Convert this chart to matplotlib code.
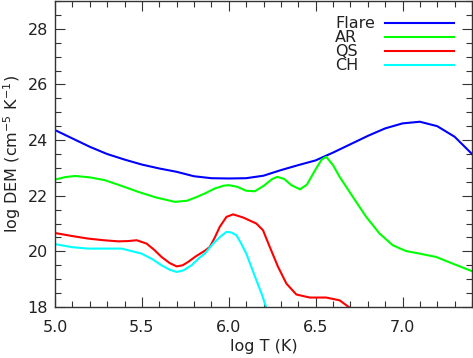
import numpy as np
import matplotlib
matplotlib.use('Agg')
from matplotlib import pyplot as plt
from matplotlib.ticker import MultipleLocator, FormatStrFormatter

# DEM curves (log T, log DEM)
flare_T = [5.0, 5.1, 5.2, 5.3, 5.4, 5.5, 5.6, 5.7, 5.8, 5.9, 6.0, 6.1, 6.2,
           6.3, 6.4, 6.5, 6.6, 6.7, 6.8, 6.9, 7.0, 7.1, 7.2, 7.3, 7.4]
flare_dem = [24.36, 24.06, 23.76, 23.5, 23.3, 23.12, 22.98, 22.86, 22.7, 22.63,
             22.62, 22.63, 22.72, 22.92, 23.1, 23.27, 23.55, 23.85, 24.15,
             24.42, 24.6, 24.66, 24.5, 24.12, 23.5]

ar_T = [5.0, 5.06, 5.115, 5.2, 5.287, 5.38, 5.479, 5.58, 5.69, 5.76, 5.81,
        5.862, 5.92, 5.97, 6.0, 6.05, 6.1, 6.15, 6.2, 6.25, 6.28, 6.32, 6.36,
        6.41, 6.45, 6.5, 6.535, 6.561, 6.6, 6.638, 6.714, 6.791, 6.868,
        6.944, 7.021, 7.098, 7.193, 7.289, 7.395]
ar_dem = [22.58, 22.67, 22.71, 22.66, 22.56, 22.36, 22.14, 21.94, 21.78, 21.82,
          21.94, 22.08, 22.26, 22.36, 22.38, 22.32, 22.18, 22.16, 22.35, 22.6,
          22.68, 22.6, 22.38, 22.23, 22.4, 22.95, 23.3, 23.4, 23.1, 22.68,
          21.96, 21.24, 20.64, 20.22, 20.01, 19.92, 19.8, 19.56, 19.3]

qs_T = [5.0, 5.1, 5.19, 5.28, 5.364, 5.42, 5.47, 5.527, 5.57, 5.613, 5.66,
        5.70, 5.735, 5.766, 5.81, 5.862, 5.891, 5.92, 5.948, 5.987, 6.025,
        6.082, 6.159, 6.197, 6.236, 6.284, 6.332, 6.389, 6.466, 6.561, 6.638,
        6.695, 6.75]
qs_dem = [20.66, 20.55, 20.46, 20.4, 20.36, 20.37, 20.4, 20.28, 20.06, 19.8,
          19.58, 19.46, 19.5, 19.62, 19.82, 20.02, 20.16, 20.5, 20.88, 21.24,
          21.33, 21.22, 21.0, 20.76, 20.16, 19.44, 18.84, 18.45, 18.34,
          18.34, 18.24, 17.98, 17.7]

ch_T = [5.0, 5.1, 5.19, 5.28, 5.383, 5.498, 5.56, 5.613, 5.66, 5.70, 5.74,
        5.786, 5.833, 5.862, 5.91, 5.95, 5.987, 6.015, 6.044, 6.07, 6.101,
        6.13, 6.159, 6.19, 6.216, 6.25]
ch_dem = [20.26, 20.15, 20.1, 20.1, 20.1, 19.92, 19.72, 19.5, 19.34, 19.26,
          19.32, 19.5, 19.78, 19.92, 20.28, 20.52, 20.7, 20.68, 20.58, 20.3,
          19.92, 19.44, 18.96, 18.46, 17.98, 17.4]

series = [('Flare', flare_T, flare_dem, '#0000ff'),
          ('AR', ar_T, ar_dem, '#00ff00'),
          ('QS', qs_T, qs_dem, '#ff0000'),
          ('CH', ch_T, ch_dem, '#00ffff')]

fs = 11.5
tc = '#222222'
plt.rcParams['font.family'] = 'DejaVu Sans'

fig = plt.figure(figsize=(4.73, 3.58), dpi=100)
ax = fig.add_axes([55/473, 51/358, 417/473, 306/358])

for name, T, dem, col in series:
    ax.plot(T, dem, color=col, lw=1.5)

# IDL style legend: label on the left, line sample on the right
for i, (name, T, dem, col) in enumerate(series):
    yl = 0.928 - i*0.0458
    ax.text(0.672, yl, name, transform=ax.transAxes, fontsize=fs,
            color=tc, ha='left', va='center')
    ax.plot([0.791, 0.957], [yl, yl], transform=ax.transAxes, color=col,
            lw=1.5, clip_on=False)

ax.set_xlim(5.0, 7.4)
ax.set_ylim(18, 29)
ax.xaxis.set_major_locator(MultipleLocator(0.5))
ax.xaxis.set_minor_locator(MultipleLocator(0.1))
ax.yaxis.set_major_locator(MultipleLocator(2))
ax.yaxis.set_minor_locator(MultipleLocator(0.5))
ax.xaxis.set_major_formatter(FormatStrFormatter('%.1f'))
ax.yaxis.set_major_formatter(FormatStrFormatter('%d'))

ax.tick_params(which='both', direction='in', top=True, right=True,
               color='#333333', width=0.8)
ax.tick_params(which='major', length=7)
ax.tick_params(which='minor', length=4)
ax.tick_params(axis='x', which='major', labelsize=fs, pad=9, labelcolor=tc)
ax.tick_params(axis='y', which='major', labelsize=fs, pad=5, labelcolor=tc)
for sp in ax.spines.values():
    sp.set_color('#333333')
    sp.set_linewidth(1.0)

ax.set_xlabel('log T (K)', fontsize=fs, labelpad=3, color=tc)
ax.set_ylabel('log DEM (cm$^{-5}$ K$^{-1}$)', fontsize=fs, labelpad=3,
              color=tc)

fig.savefig('out.png', dpi=100)
